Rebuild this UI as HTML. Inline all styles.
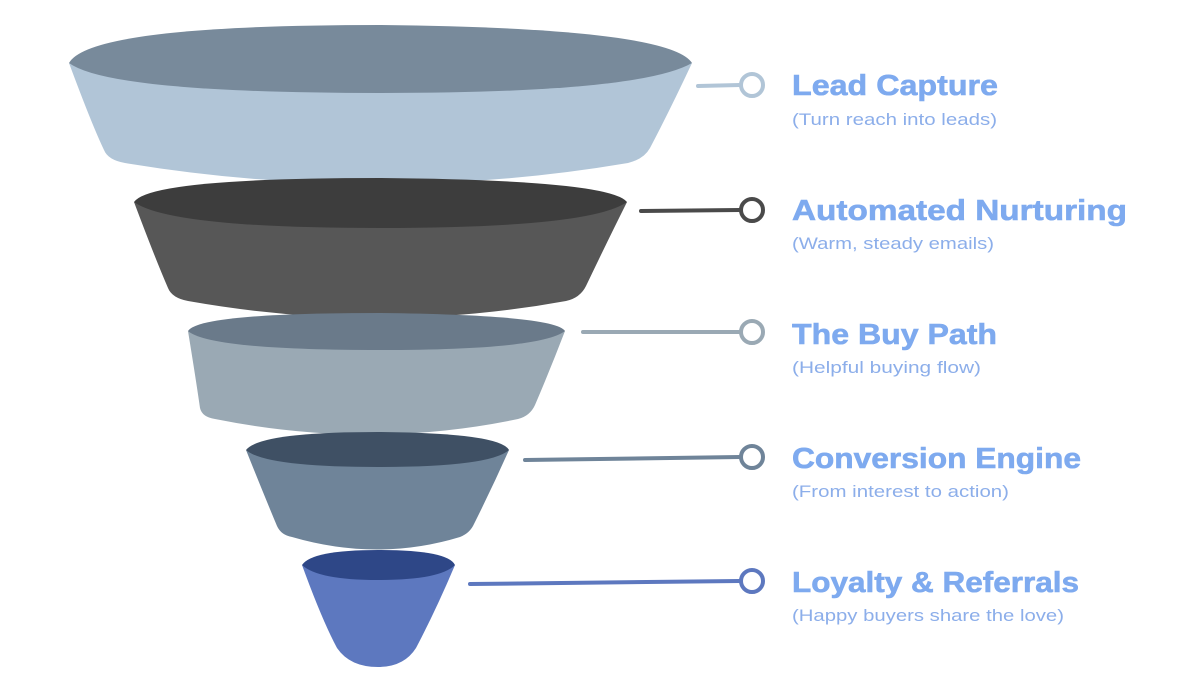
<!DOCTYPE html>
<html><head><meta charset="utf-8"><style>html,body{margin:0;padding:0;background:#fff;}svg{display:block}</style></head>
<body>
<svg width="1200" height="687" viewBox="0 0 1200 687" xmlns="http://www.w3.org/2000/svg">
<!-- Layer 1 -->
<path d="M69,63 Q92,125 104,150 Q108,160 125,163 Q380,205 628,163 Q644,159 650,148 Q670,110 692,63 Z" fill="#b1c5d7"/>
<path d="M69,63 Q90,25 380,25 Q670,28 692,63 Q640,93 380,93 Q110,93 69,63 Z" fill="#788a9b"/>
<!-- Layer 2 -->
<path d="M134,202 Q155,258 168,288 Q172,298 188,301 Q380,335 566,301 Q580,298 586,286 Q608,240 627,202 Z" fill="#575757"/>
<path d="M134,202 Q150,178 380,178 Q610,180 627,202 Q590,228 380,228 Q170,228 134,202 Z" fill="#3d3d3d"/>
<!-- Layer 3 -->
<path d="M188,331 Q196,380 200,408 Q202,417 215,419 Q370,450 518,419 Q530,416 535,405 Q550,370 565,331 Z" fill="#9aa9b4"/>
<path d="M188,331 Q200,313 380,313 Q555,315 565,331 Q540,350 380,350 Q210,350 188,331 Z" fill="#6a7a8a"/>
<!-- Layer 4 -->
<path d="M246,450 Q264,495 277,526 Q281,535 292,537 Q378,562 460,537 Q470,533 474,524 Q492,488 509,450 Z" fill="#6f8499"/>
<path d="M246,450 Q260,432 378,432 Q500,433 509,450 Q490,467 378,467 Q265,467 246,450 Z" fill="#3f5064"/>
<!-- Layer 5 -->
<path d="M302,565 Q322,620 337,648 Q350,667 378,667 Q404,667 416,648 Q436,610 455,565 Z" fill="#5d78bf"/>
<path d="M302,565 Q312,550 378,550 Q448,550 455,565 Q440,580 378,580 Q318,580 302,565 Z" fill="#2e4787"/>
<!-- connectors -->
<g fill="#fff" stroke-width="4" stroke-linecap="round">
<path d="M698,86 L740,85" stroke="#b1c5d7"/><circle cx="752" cy="85" r="11" stroke="#b1c5d7"/>
<path d="M641,211 L740,210" stroke="#4a4a4a"/><circle cx="752" cy="210" r="11" stroke="#4a4a4a"/>
<path d="M583,332 L740,332" stroke="#9aa9b4"/><circle cx="752" cy="332" r="11" stroke="#9aa9b4"/>
<path d="M525,460 L740,457" stroke="#6f8499"/><circle cx="752" cy="457" r="11" stroke="#6f8499"/>
<path d="M470,584 L740,581" stroke="#5d78bf"/><circle cx="752" cy="581" r="11" stroke="#5d78bf"/>
</g>
<g font-family="Liberation Sans, sans-serif">
<g font-weight="bold" font-size="29" fill="#7eaaef" stroke="#7eaaef" stroke-width="0.6">
<text x="792" y="95" textLength="206" lengthAdjust="spacingAndGlyphs">Lead Capture</text>
<text x="792" y="220" textLength="335" lengthAdjust="spacingAndGlyphs">Automated Nurturing</text>
<text x="792" y="344" textLength="205" lengthAdjust="spacingAndGlyphs">The Buy Path</text>
<text x="792" y="468" textLength="289" lengthAdjust="spacingAndGlyphs">Conversion Engine</text>
<text x="792" y="592" textLength="287" lengthAdjust="spacingAndGlyphs">Loyalty &amp; Referrals</text>
</g>
<g font-size="17" fill="#8caeea">
<text x="792" y="125" textLength="205" lengthAdjust="spacingAndGlyphs">(Turn reach into leads)</text>
<text x="792" y="249" textLength="202" lengthAdjust="spacingAndGlyphs">(Warm, steady emails)</text>
<text x="792" y="373" textLength="189" lengthAdjust="spacingAndGlyphs">(Helpful buying flow)</text>
<text x="792" y="497" textLength="217" lengthAdjust="spacingAndGlyphs">(From interest to action)</text>
<text x="792" y="621" textLength="272" lengthAdjust="spacingAndGlyphs">(Happy buyers share the love)</text>
</g>
</g>
</svg>
</body></html>
